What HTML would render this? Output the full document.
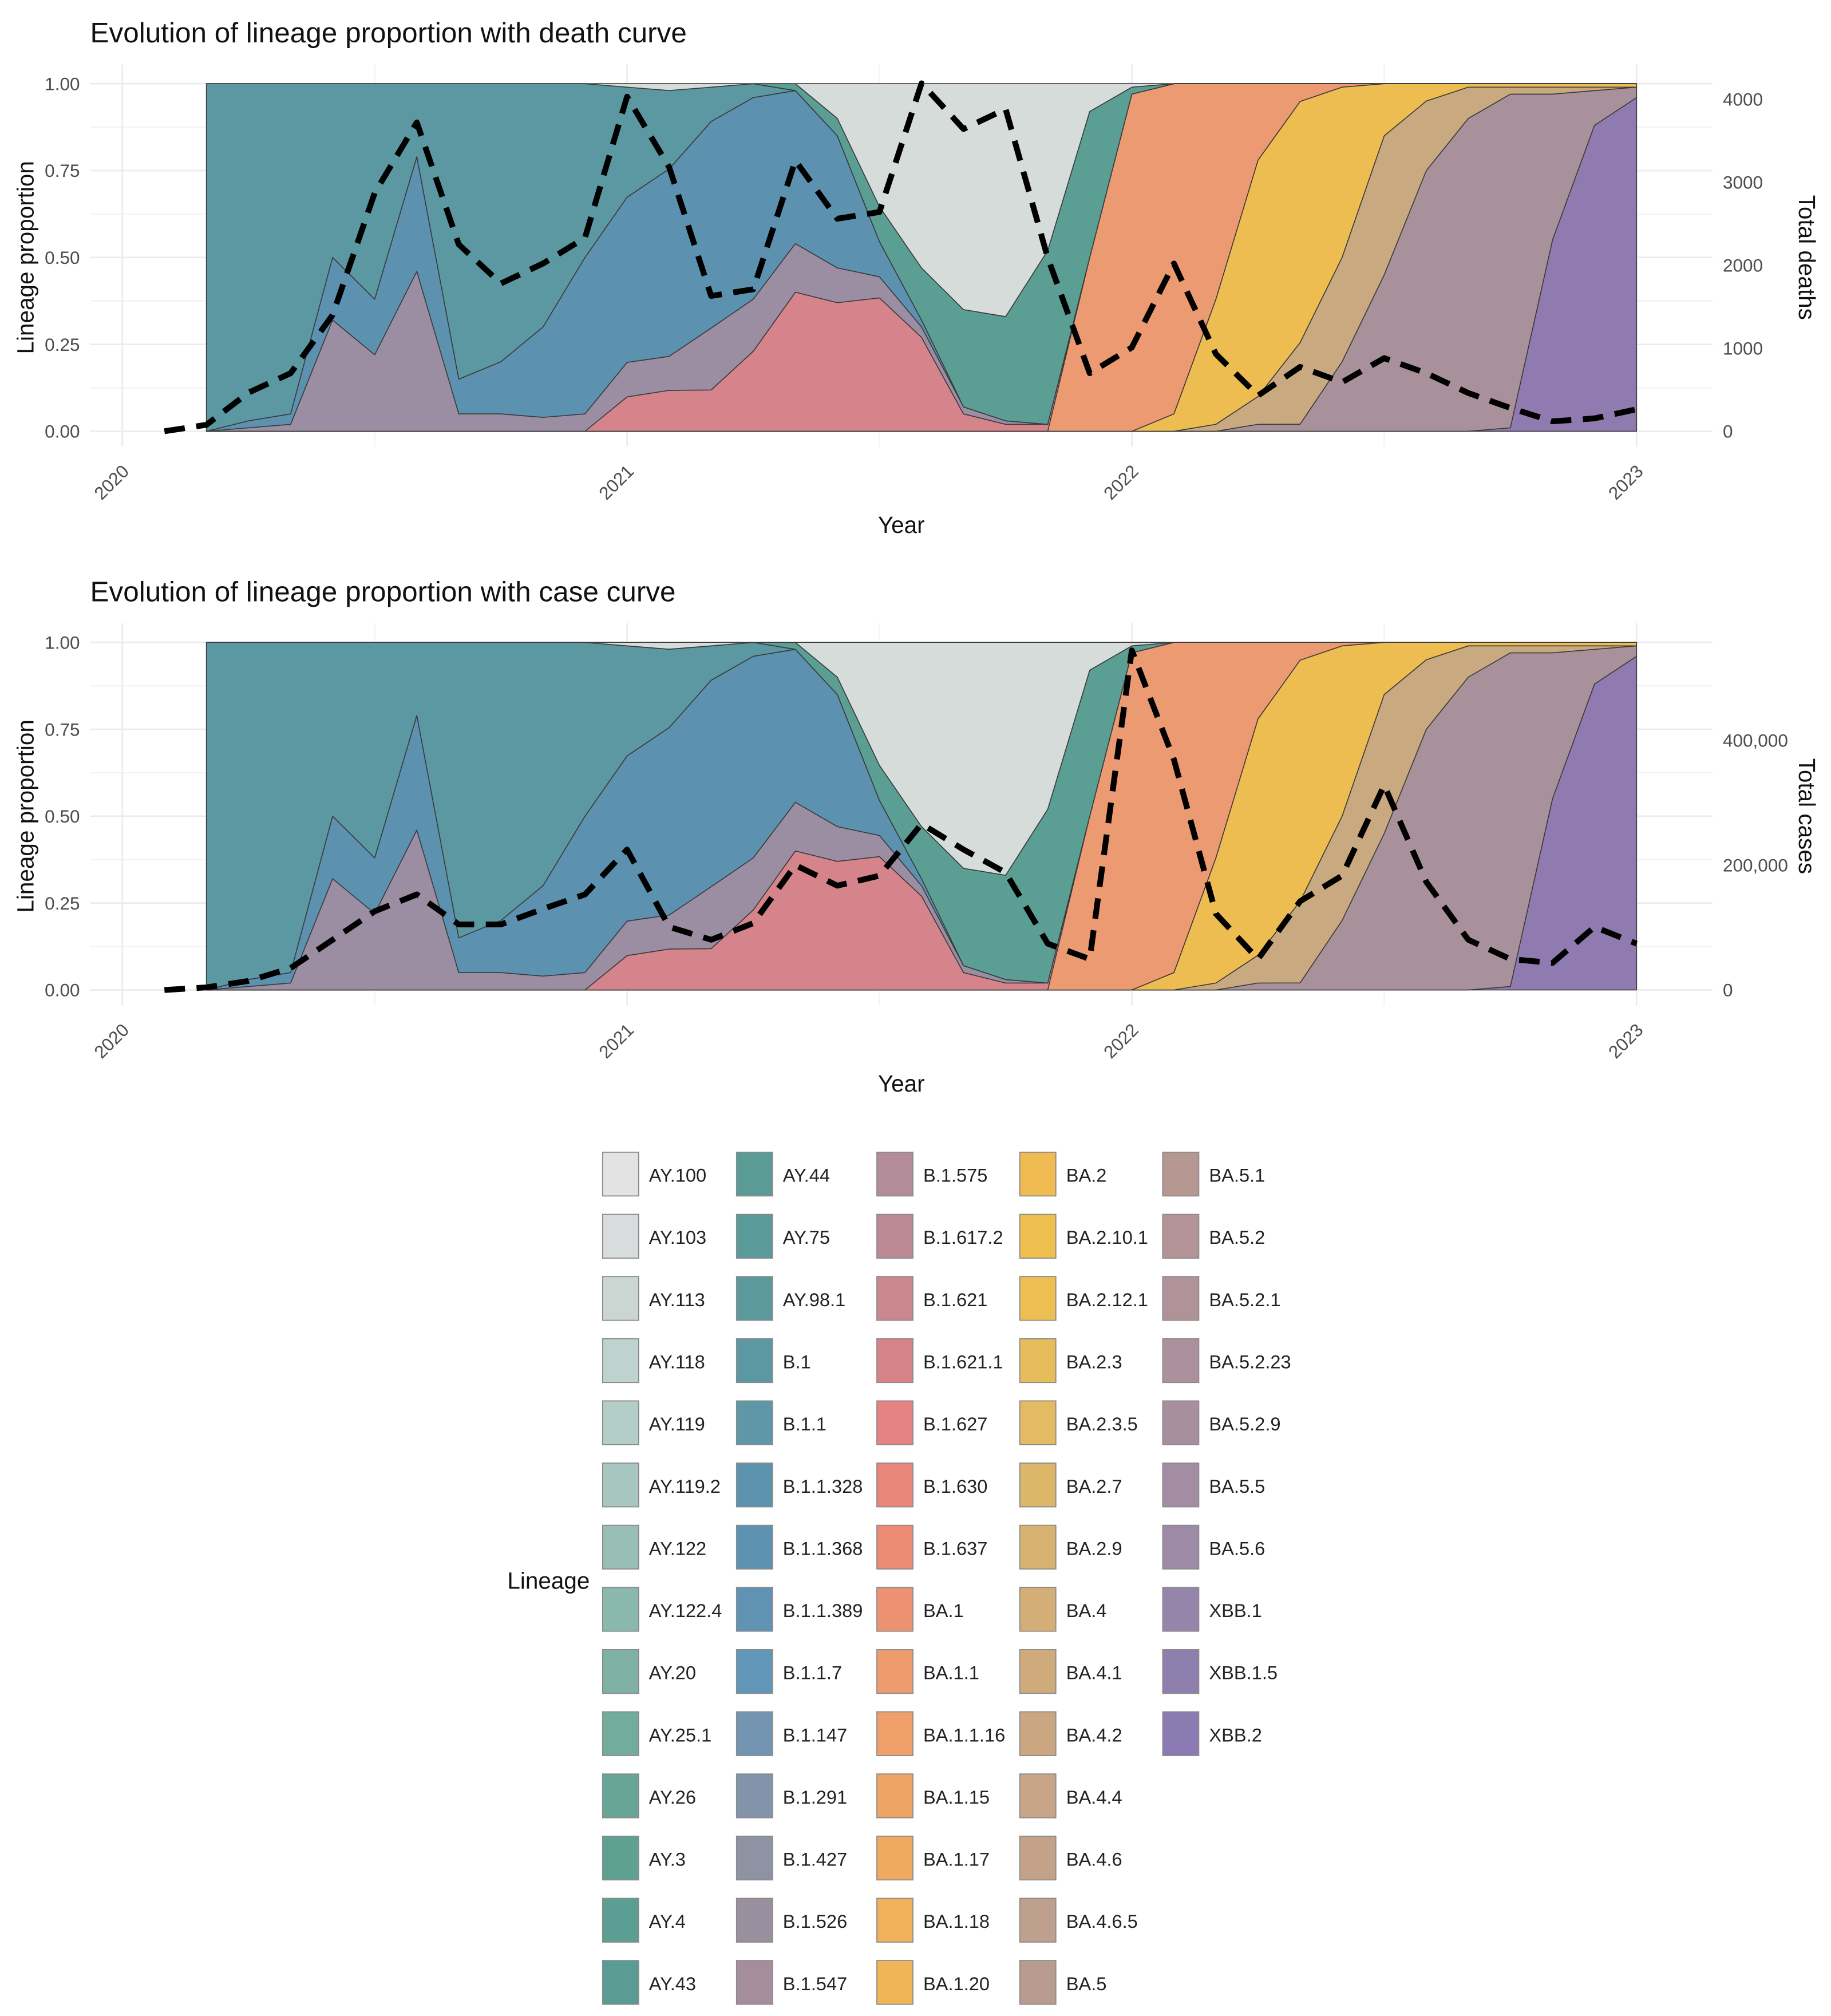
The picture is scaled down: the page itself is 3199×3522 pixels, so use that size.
<!DOCTYPE html>
<html><head><meta charset="utf-8">
<style>
html,body{margin:0;padding:0;background:#fff;}
svg{display:block;}
text{font-family:"Liberation Sans","DejaVu Sans",sans-serif;}
</style></head>
<body>
<svg id="root" width="3199" height="3522" viewBox="0 0 1422 1566" preserveAspectRatio="none" xmlns="http://www.w3.org/2000/svg">
<g id="top"></g>
<g id="bot"></g>
<g id="leg"></g>
</svg>
<script>
// ---- data ----
const groupNames = ["XBB","BA.5","BA.4","BA.2","BA.1","B.1.6xx","B.1.5xx","B.1.1.x","B.1","AY.4x","AY.1xx"];
const groupColors = ["#8f7bb0","#a8919b","#c9a97f","#edbd52","#eb9a72","#d4848a","#9b8ea3","#5d91b0","#5b98a2","#5a9e94","#d6dcda"];
const sXBB  = [0,0,0,0,0,0,0,0,0,0,0,0,0,0,0,0,0,0,0,0,0,0,0,0,0,0,0,0,0,0,0,0.01,0.55,0.88,0.96];
const sBA5  = [0,0,0,0,0,0,0,0,0,0,0,0,0,0,0,0,0,0,0,0,0,0,0,0,0,0.02,0.02,0.2,0.45,0.75,0.9,0.96,0.42,0.1,0.03];
const sBA4  = [0,0,0,0,0,0,0,0,0,0,0,0,0,0,0,0,0,0,0,0,0,0,0,0,0.02,0.08,0.23,0.3,0.4,0.2,0.09,0.02,0.02,0.01,0];
const sBA2  = [0,0,0,0,0,0,0,0,0,0,0,0,0,0,0,0,0,0,0,0,0,0,0,0.05,0.36,0.68,0.68,0.49,0.15,0.05,0.01,0.01,0.01,0.01,0.01];
const sBA1  = [0,0,0,0,0,0,0,0,0,0,0,0,0,0,0,0,0,0,0,0,0,0.5,0.97,0.95,0.62,0.22,0.05,0.01,0,0,0,0,0,0,0];
const sB16  = [0,0,0,0,0,0,0,0,0,0,0.1,0.12,0.12,0.23,0.4,0.37,0.38,0.27,0.05,0.02,0.02,0,0,0,0,0,0,0,0,0,0,0,0,0,0];
const sB15  = [0,0.01,0.02,0.32,0.22,0.46,0.05,0.05,0.04,0.05,0.1,0.1,0.18,0.15,0.14,0.1,0.06,0.03,0.02,0.01,0,0,0,0,0,0,0,0,0,0,0,0,0,0,0];
const sB11  = [0,0.02,0.03,0.18,0.16,0.33,0.1,0.15,0.26,0.45,0.48,0.55,0.6,0.58,0.44,0.38,0.1,0.02,0,0,0,0,0,0,0,0,0,0,0,0,0,0,0,0,0];
const sB1   = [1,0.97,0.95,0.5,0.62,0.21,0.85,0.8,0.7,0.5,0.32,0.23,0.1,0.04,0,0,0,0,0,0,0,0,0,0,0,0,0,0,0,0,0,0,0,0,0];
const sAY4  = [0,0,0,0,0,0,0,0,0,0,0,0,0,0,0.02,0.05,0.1,0.15,0.28,0.3,0.5,0.42,0.02,0,0,0,0,0,0,0,0,0,0,0,0];
const sAY1  = [0,0,0,0,0,0,0,0,0,0,0.01,0.02,0.01,0,0,0.1,0.35,0.53,0.65,0.67,0.48,0.08,0.01,0,0,0,0,0,0,0,0,0,0,0,0];
const series = [sXBB,sBA5,sBA4,sBA2,sBA1,sB16,sB15,sB11,sB1,sAY4,sAY1];
const deaths = [0,78,465,700,1400,2870,3720,2250,1780,2020,2330,4030,3180,1630,1710,3260,2560,2640,4190,3640,3880,2090,700,1010,2020,930,430,775,590,880,700,460,280,120,155,265];
const cases = [0,4100,14400,35000,80400,126000,153000,105000,105000,130000,153000,225000,101000,80400,107000,200000,167000,183000,266000,225000,188000,74200,49500,544000,369000,122000,49500,142000,183000,328000,173000,80400,49500,43300,101000,74200];
const propTicks = ["0.00","0.25","0.50","0.75","1.00"];
const propVals = [0,0.25,0.5,0.75,1];
const yearTicks = ["2020","2021","2022","2023"];
const deathTicks = [0,1000,2000,3000,4000];
const caseTicks = [0,200000,400000];
const legendLabels = [
["AY.100","AY.103","AY.113","AY.118","AY.119","AY.119.2","AY.122","AY.122.4","AY.20","AY.25.1","AY.26","AY.3","AY.4","AY.43"],
["AY.44","AY.75","AY.98.1","B.1","B.1.1","B.1.1.328","B.1.1.368","B.1.1.389","B.1.1.7","B.1.147","B.1.291","B.1.427","B.1.526","B.1.547"],
["B.1.575","B.1.617.2","B.1.621","B.1.621.1","B.1.627","B.1.630","B.1.637","BA.1","BA.1.1","BA.1.1.16","BA.1.15","BA.1.17","BA.1.18","BA.1.20"],
["BA.2","BA.2.10.1","BA.2.12.1","BA.2.3","BA.2.3.5","BA.2.7","BA.2.9","BA.4","BA.4.1","BA.4.2","BA.4.4","BA.4.6","BA.4.6.5","BA.5"],
["BA.5.1","BA.5.2","BA.5.2.1","BA.5.2.23","BA.5.2.9","BA.5.5","BA.5.6","XBB.1","XBB.1.5","XBB.2"]];
const legendColors = [
["#e3e3e3","#d8dcdd","#cbd6d3","#bfd3ce","#b3cdc7","#a6c6bf","#98beb5","#8bb8ac","#7fb2a4","#72ac9d","#67a697","#5ea193","#5b9e93","#5a9b94"],
["#5a9b96","#5a9a99","#5b999d","#5c98a2","#5d97a8","#5d94ad","#5e92b1","#6092b3","#6296b8","#7495b2","#8393aa","#8e93a3","#9a8f9e","#a68d9d"],
["#b28c99","#bb8893","#c9878e","#d68488","#e48382","#ea857a","#ec8a76","#ec9272","#ee9b6e","#ef9f6a","#efa465","#f0aa60","#f1b05c","#f0b556"],
["#f0bb52","#efbf4f","#edbf52","#e6bd5a","#e2bb62","#dcb669","#d8b270","#d3ae76","#cfab7c","#cba781","#c8a586","#c4a28a","#bf9f8d","#ba9b8f"],
["#b79792","#b49496","#b09299","#ac919d","#a78fa0","#a38da3","#9d8aa6","#9585aa","#8f7faf","#8b7bb2"]];
</script>
<script>
const NS="http://www.w3.org/2000/svg";
function mk(tag,attrs,parent,txt){const e=document.createElementNS(NS,tag);for(const k in attrs)e.setAttribute(k,attrs[k]);if(txt!==undefined)e.textContent=txt;parent.appendChild(e);return e;}
const X0=95, PY=392;
function xArea(i){return X0+(2+i)/12*PY;}
function xCurve(j){return X0+(1+j)/12*PY;}
function xYear(k){return X0+k*PY;}

function panel(g,base,title,rTitle,rTicks,rMax,rPx,rFmt,curve,cname){
  const yP=p=>base-270*p;
  const yR=v=>base-v/rMax*rPx;
  const t=mk('text',{x:70,y:base-302,'font-size':22,fill:'#111'},g,title);
  
  
  for(let q=0;q<9;q++){const p=q/8;const l=mk('line',{x1:70,x2:1330,y1:yP(p),y2:yP(p),stroke:q%2?'#f4f4f4':'#ebebeb','stroke-width':1.2},g);
    
    }
  for(let k=0;k<7;k++){const x=X0+k*PY/2;const l=mk('line',{x1:x,x2:x,y1:base-285,y2:base+12,stroke:k%2?'#f4f4f4':'#ebebeb','stroke-width':1.2},g);
    
    }
  const n=series[0].length;
  const tot=[];for(let i=0;i<n;i++){let s=0;for(const sr of series)s+=sr[i];tot.push(s||1);}
  const cum=new Array(n).fill(0);
  series.forEach((sr,gi)=>{
    const lo=cum.slice();
    for(let i=0;i<n;i++)cum[i]+=sr[i]/tot[i];
    let d='M';
    for(let i=0;i<n;i++)d+=xArea(i).toFixed(1)+','+yP(cum[i]).toFixed(1)+' L';
    for(let i=n-1;i>=0;i--)d+=xArea(i).toFixed(1)+','+yP(lo[i]).toFixed(1)+(i?' L':' Z');
    const p=mk('path',{d:d,fill:groupColors[gi],stroke:'#3a3a3a','stroke-width':0.7,'stroke-linejoin':'round'},g);
    
    
  });
  propVals.forEach((v,k)=>{const e=mk('text',{x:62,y:yP(v)+5,'font-size':14,fill:'#4d4d4d','text-anchor':'end'},g,propTicks[k]);
    
    });
  const yl=mk('text',{transform:`translate(26,${base-135}) rotate(-90)`,'font-size':18,fill:'#111','text-anchor':'middle'},g,'Lineage proportion');
  
  
  rTicks.forEach(v=>{const e=mk('text',{x:1338,y:yR(v)+5,'font-size':14,fill:'#4d4d4d'},g,rFmt(v));
    
    });
  const rl=mk('text',{transform:`translate(1397,${base-135}) rotate(90)`,'font-size':18,fill:'#111','text-anchor':'middle'},g,rTitle);
  
  
  yearTicks.forEach((s,k)=>{const e=mk('text',{transform:`translate(${xYear(k)+6},${base+32}) rotate(-45)`,'font-size':14,fill:'#4d4d4d','text-anchor':'end'},g,s);
    
    });
  const xl=mk('text',{x:700,y:base+79,'font-size':18,fill:'#111','text-anchor':'middle'},g,'Year');
  
  
  let d='';curve.forEach((v,j)=>{d+=(j?'L':'M')+xCurve(j).toFixed(1)+','+yR(v).toFixed(1);});
  const c=mk('path',{d:d,fill:'none',stroke:'#000','stroke-width':4.5,'stroke-dasharray':'16,9','stroke-linejoin':'round'},g);
  
  
}
function fmtComma(v){return String(v).replace(/\B(?=(\d{3})+(?!\d))/g,',');}
panel(document.getElementById('top'),335,'Evolution of lineage proportion with death curve','Total deaths',deathTicks,4000,258,v=>String(v),deaths,'death-curve');
panel(document.getElementById('bot'),769,'Evolution of lineage proportion with case curve','Total cases',caseTicks,400000,194,fmtComma,cases,'case-curve');

const L=document.getElementById('leg');
const lt=mk('text',{x:394,y:1234,'font-size':18,fill:'#111'},L,'Lineage');


const colX=[468,572,681,792,903];
legendLabels.forEach((col,ci)=>{col.forEach((lab,ri)=>{
  const y=895+ri*48.3;
  const r=mk('rect',{x:colX[ci],y:y,width:28,height:34,fill:legendColors[ci][ri],stroke:'#8a8a8a','stroke-width':0.8},L);
  
  
  const t=mk('text',{x:colX[ci]+36,y:y+23,'font-size':14.5,fill:'#222'},L,lab);
  
  
});});
</script>
</body></html>
